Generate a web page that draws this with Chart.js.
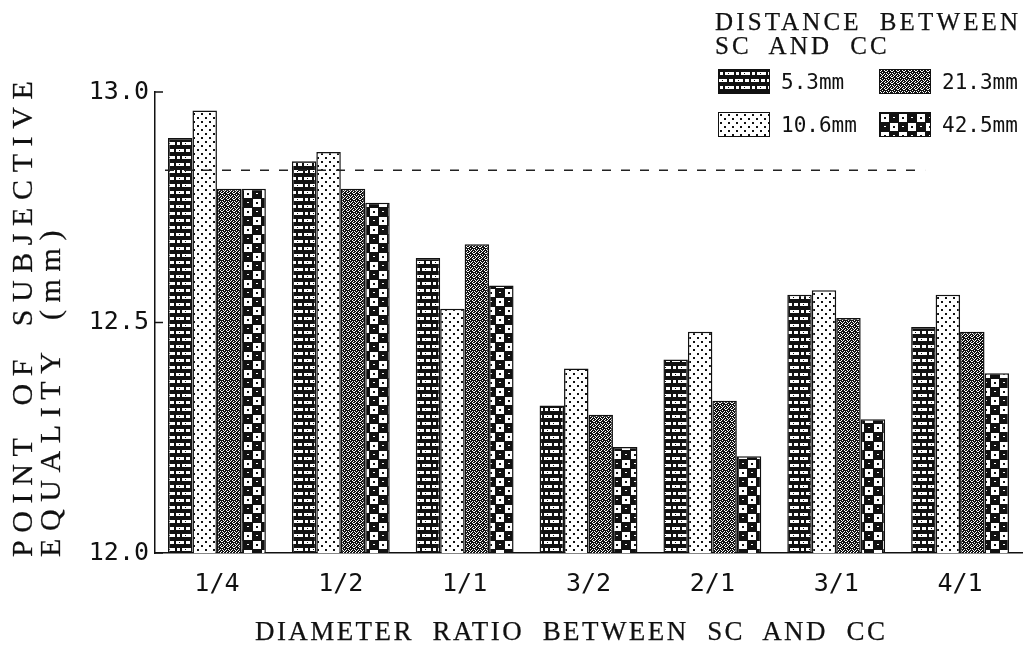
<!DOCTYPE html>
<html>
<head>
<meta charset="utf-8">
<script src="https://cdn.jsdelivr.net/npm/chart.js@4/dist/chart.umd.min.js"></script>
<style>
  html, body { margin: 0; padding: 0; background: #fff; }
  #wrap { position: relative; width: 1030px; height: 645px; overflow: hidden; }
  #chart { position: absolute; left: 0; top: 0; }
  .title { position: absolute; font-family: "Liberation Serif", serif; color: #111; white-space: nowrap; line-height: 1; word-spacing: 0.35em; -webkit-text-stroke: 0.25px #111; }
  .rot { transform-origin: 0 0; transform: rotate(-90deg); }
  .legend-item { position: absolute; display: flex; align-items: center; font-family: "DejaVu Sans Mono", monospace; font-size: 21px; color: #111; white-space: nowrap; }
  .legend-item canvas { border: 1.5px solid #111; margin-right: 11px; display: block; }
</style>
</head>
<body>
<div id="wrap">
  <canvas id="chart" width="1030" height="645"></canvas>
  <div class="title" id="legTitle1" style="font-size:25px; left:715px; top:9px;">DISTANCE BETWEEN</div>
  <div class="title" id="legTitle2" style="font-size:25px; left:715px; top:33px;">SC AND CC</div>
  <div class="title" id="xTitle" style="font-size:27px; left:255px; top:618px;">DIAMETER RATIO BETWEEN SC AND CC</div>
  <div class="title rot" id="yTitle1" style="font-size:30px; left:7px; top:557px;">POINT OF SUBJECTIVE</div>
  <div class="title rot" id="yTitle2" style="font-size:30px; left:35px; top:557px;">EQUALITY (mm)</div>
  <div id="legend"></div>
</div>
<script>
// categories (diameter ratio SC : CC)
const ratioLabels = ['1/4', '1/2', '1/1', '3/2', '2/1', '3/1', '4/1'];

// point of subjective equality (mm) per distance between SC and CC
const seriesNames = ['5.3mm', '10.6mm', '21.3mm', '42.5mm'];
const pse_5_3 = [12.90, 12.85, 12.64, 12.32, 12.42, 12.56, 12.49];
const pse_10_6 = [12.96, 12.87, 12.53, 12.40, 12.48, 12.57, 12.56];
const pse_21_3 = [12.79, 12.79, 12.67, 12.30, 12.33, 12.51, 12.48];
const pse_42_5 = [12.79, 12.76, 12.58, 12.23, 12.21, 12.29, 12.39];

// dashed reference level
const referenceValue = 12.83;

// y axis
const yMin = 12.0;
const yMax = 13.0;
const yStep = 0.5;

// --- fill patterns (black & white hatching like the print) ---
function makeTile(w, h, draw) {
    const c = document.createElement('canvas');
    c.width = w; c.height = h;
    draw(c.getContext('2d'), w, h);
    return c;
}
function bitmapTile(rows) {
    return makeTile(rows[0].length, rows.length, (g) => {
        g.fillStyle = '#fff';
        g.fillRect(0, 0, rows[0].length, rows.length);
        g.fillStyle = '#111';
        rows.forEach((r, y) => {
            for (let x = 0; x < r.length; x++) if (r[x] === '1') g.fillRect(x, y, 1, 1);
        });
    });
}

const tiles = [
    // brick
    makeTile(16, 14, (g) => {
        g.fillStyle = '#111'; g.fillRect(0, 0, 16, 14);
        g.fillStyle = '#fff';
        g.fillRect(1, 2, 3, 3);
        g.fillRect(6, 2, 9, 3);
        g.fillRect(0, 9, 8, 3);
        g.fillRect(10, 9, 4, 3);
        g.fillStyle = '#111';
        g.fillRect(9, 3, 1, 1); g.fillRect(3, 10, 1, 1);
    }),
    // light dots
    makeTile(8, 8, (g) => {
        g.fillStyle = '#fff'; g.fillRect(0, 0, 8, 8);
        g.fillStyle = '#111';
        g.fillRect(1, 1, 2, 2);
        g.fillRect(5, 5, 2, 2);
    }),
    // dense stipple
    bitmapTile([
        '101101',
        '011110',
        '110111',
        '011101',
        '101011',
        '110110'
    ]),
    // checker
    makeTile(18, 18, (g) => {
        g.fillStyle = '#111'; g.fillRect(0, 0, 18, 18);
        g.fillStyle = '#fff';
        g.fillRect(1, 1, 8, 8);
        g.fillRect(10, 10, 8, 8);
        g.fillStyle = '#111';
        g.fillRect(4, 4, 2, 2); g.fillRect(13, 13, 2, 2);
        g.fillStyle = '#fff';
        g.fillRect(13, 4, 2, 1); g.fillRect(4, 13, 2, 1);
    })
];

const canvas = document.getElementById('chart');
const ctx = canvas.getContext('2d');
const patterns = tiles.map(t => ctx.createPattern(t, 'repeat'));

const seriesData = [pse_5_3, pse_10_6, pse_21_3, pse_42_5];

const refLinePlugin = {
    id: 'refLine',
    afterDatasetsDraw(chart) {
        const { ctx, chartArea, scales: { x, y } } = chart;
        const py = y.getPixelForValue(referenceValue);
        ctx.save();
        ctx.strokeStyle = '#222';
        ctx.lineWidth = 1.5;
        ctx.setLineDash([9, 10]);
        ctx.beginPath();
        ctx.moveTo(chartArea.left + 10, py);
        ctx.lineTo(x.getPixelForValue(ratioLabels.length - 1) - 35, py);
        ctx.stroke();
        // inward tick marks on the y axis
        ctx.setLineDash([]);
        ctx.strokeStyle = '#111';
        y.ticks.forEach((t, i) => {
            const ty = y.getPixelForTick(i);
            ctx.beginPath();
            ctx.moveTo(chartArea.left, ty);
            ctx.lineTo(chartArea.left + 8, ty);
            ctx.stroke();
        });
        ctx.restore();
    }
};

const tickFont = { family: '"DejaVu Sans Mono", monospace', size: 25 };

new Chart(ctx, {
    type: 'bar',
    data: {
        labels: ratioLabels,
        datasets: seriesNames.map((name, i) => ({
            label: name,
            data: seriesData[i],
            backgroundColor: patterns[i],
            borderColor: '#111',
            borderWidth: 1.5,
            borderSkipped: false,
            categoryPercentage: 0.79,
            barPercentage: 1.0
        }))
    },
    options: {
        responsive: false,
        animation: false,
        layout: { padding: { top: 92, right: 8, left: 0, bottom: 0 } },
        plugins: {
            legend: { display: false },
            tooltip: { enabled: false }
        },
        scales: {
            x: {
                offset: true,
                grid: { display: false, drawTicks: false },
                border: { color: '#111', width: 1.5 },
                ticks: { font: tickFont, color: '#111', padding: 16 },
                afterFit(scale) { scale.height = 92; }
            },
            y: {
                min: yMin,
                max: yMax,
                grid: { display: false, drawTicks: false },
                border: { color: '#111', width: 1.5 },
                ticks: {
                    stepSize: yStep,
                    font: tickFont,
                    color: '#111',
                    padding: 6,
                    callback: (v) => Number(v).toFixed(1)
                },
                afterFit(scale) { scale.width = 155; }
            }
        }
    },
    plugins: [refLinePlugin]
});

// legend, two columns like the print
const legend = document.getElementById('legend');
const legendSlots = [
    { left: 718, top: 69 },   // 5.3mm
    { left: 718, top: 112 },  // 10.6mm
    { left: 879, top: 69 },   // 21.3mm
    { left: 879, top: 112 }   // 42.5mm
];
seriesNames.forEach((name, i) => {
    const item = document.createElement('div');
    item.className = 'legend-item';
    item.style.left = legendSlots[i].left + 'px';
    item.style.top = legendSlots[i].top + 'px';
    const sw = document.createElement('canvas');
    sw.width = 50; sw.height = 23;
    const sctx = sw.getContext('2d');
    sctx.fillStyle = sctx.createPattern(tiles[i], 'repeat');
    sctx.fillRect(0, 0, 50, 23);
    item.appendChild(sw);
    const txt = document.createElement('span');
    txt.textContent = name;
    item.appendChild(txt);
    legend.appendChild(item);
});

// spread the typewriter-like titles to the widths of the print
function spread(el, target, others) {
    el.style.letterSpacing = '0px';
    const natural = el.offsetWidth;
    const n = el.textContent.length - 1;
    const ls = (target - natural) / n;
    el.style.letterSpacing = ls + 'px';
    (others || []).forEach(o => { o.style.letterSpacing = ls + 'px'; });
}
spread(document.getElementById('legTitle1'), 303, [document.getElementById('legTitle2')]);
spread(document.getElementById('xTitle'), 630);
spread(document.getElementById('yTitle1'), 476, [document.getElementById('yTitle2')]);
</script>
</body>
</html>
